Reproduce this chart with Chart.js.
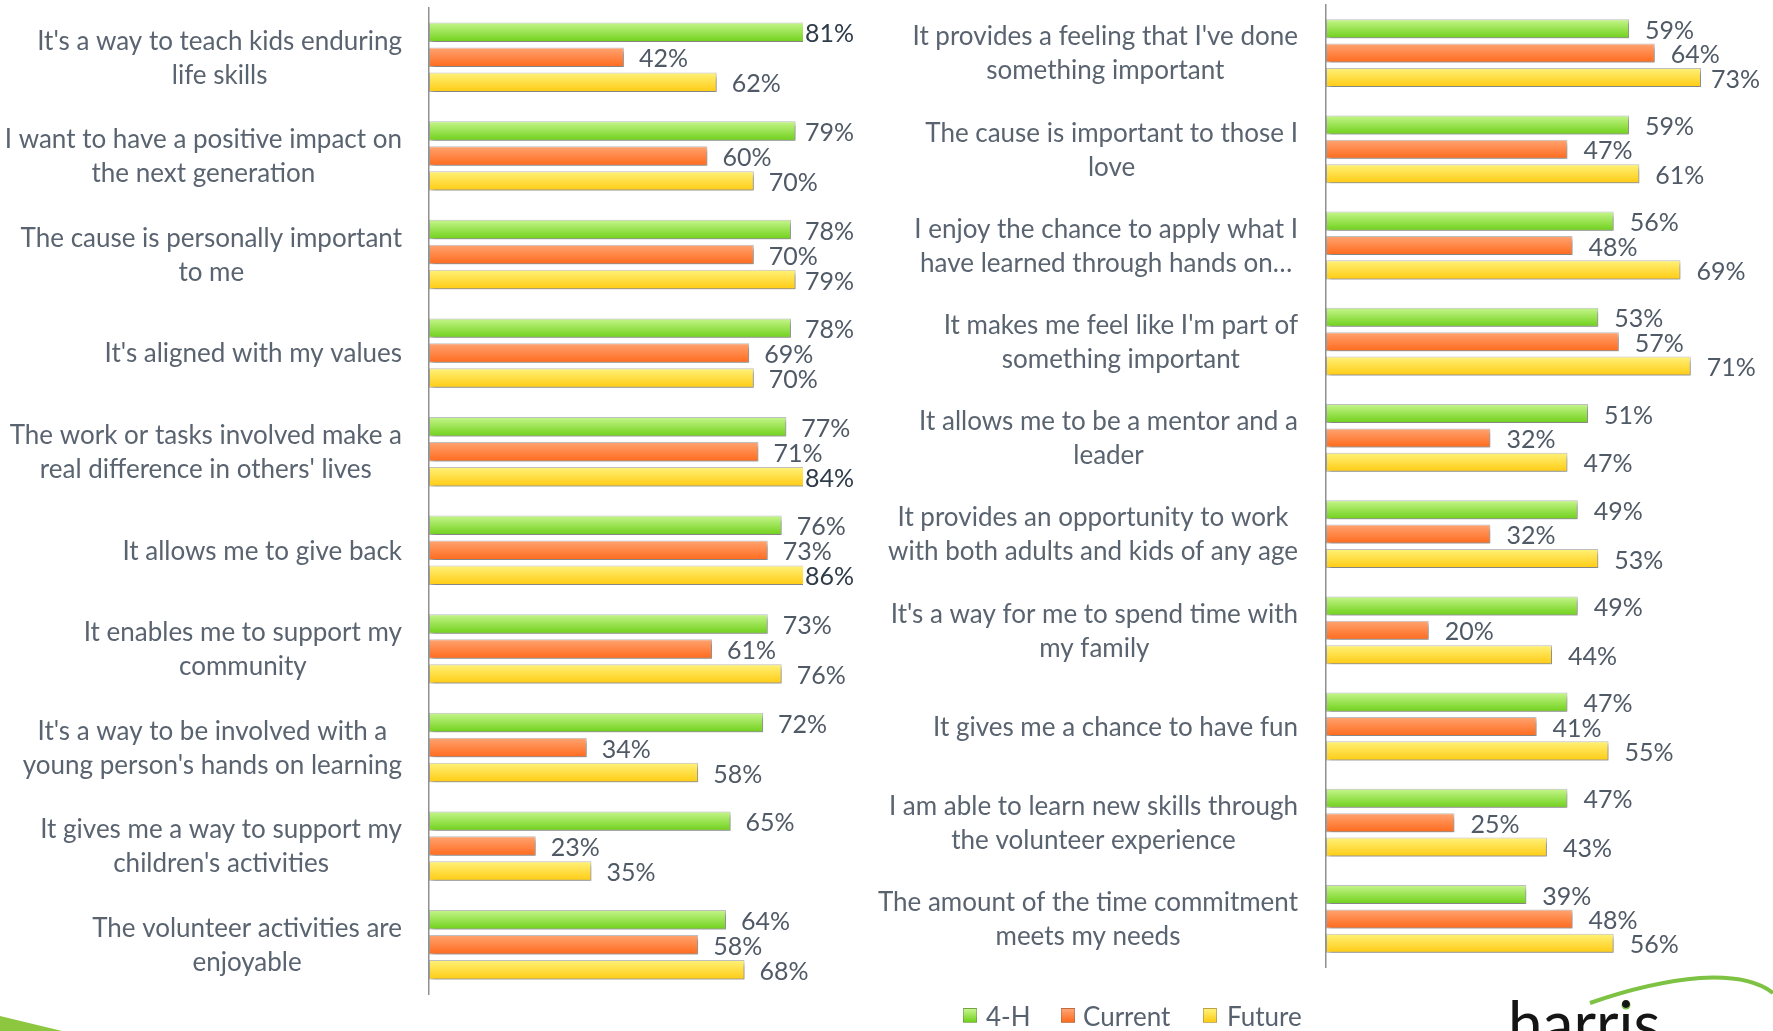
<!DOCTYPE html>
<html>
<head>
<meta charset="utf-8">
<script src="https://cdn.jsdelivr.net/npm/chart.js@4.4.1/dist/chart.umd.min.js"></script>
<style>
  html, body { margin: 0; padding: 0; background: #fff; }
  body { width: 1773px; height: 1031px; overflow: hidden; position: relative; font-family: Lato, sans-serif; }
  #leftChart { position: absolute; left: 0; top: 0; }
  #rightChart { position: absolute; left: 870px; top: 0; }
  .legend { position: absolute; top: 1002px; left: 0; font-size: 26px; color: #58626e; }
  .legend span { position: absolute; white-space: nowrap; line-height: 28px; }
  .legend i { position: absolute; top: 6px; width: 14px; height: 15px; box-sizing: border-box; border: 1px solid rgba(110,110,110,0.45); }
  #deco { position: absolute; left: 0; top: 0; }
</style>
</head>
<body>
<canvas id="leftChart" width="870" height="1031"></canvas>
<canvas id="rightChart" width="903" height="1031"></canvas>

<div class="legend">
  <i style="left:963px;background:linear-gradient(#c6f68c,#6fd01a)"></i><span style="left:986px">4-H</span>
  <i style="left:1061px;background:linear-gradient(#ffa472,#ff6a1c)"></i><span style="left:1083px">Current</span>
  <i style="left:1203px;background:linear-gradient(#fff27a,#ffcb12)"></i><span style="left:1227px">Future</span>
</div>

<svg id="deco" width="1773" height="1031">
  <polygon points="0,1016 62,1031 0,1031" fill="#8dc63f"/>
  <path d="M1590 1003 Q1650 982 1700 978 Q1750 975 1773 993" fill="none" stroke="#7dc242" stroke-width="4"/>
  <circle cx="1626" cy="1005" r="4.5" fill="#7dc242"/>
  <text x="1508" y="1046" font-family="Lato, sans-serif" font-size="62" fill="#151515">harris</text>
</svg>

<script>
const seriesNames = ["4-H", "Current", "Future"];

const leftLabels = [
  ["It's a way to teach kids enduring", "life skills"],
  ["I want to have a positive impact on", "the next generation"],
  ["The cause is personally important", "to me"],
  ["It's aligned with my values"],
  ["The work or tasks involved make a", "real difference in others' lives"],
  ["It allows me to give back"],
  ["It enables me to support my", "community"],
  ["It's a way to be involved with a", "young person's hands on learning"],
  ["It gives me a way to support my", "children's activities"],
  ["The volunteer activities are", "enjoyable"],
];
const leftFourH   = [81, 79, 78, 78, 77, 76, 73, 72, 65, 64];
const leftCurrent = [42, 60, 70, 69, 71, 73, 61, 34, 23, 58];
const leftFuture  = [62, 70, 79, 70, 84, 86, 76, 58, 35, 68];

const rightLabels = [
  ["It provides a feeling that I've done", "something important"],
  ["The cause is important to those I", "love"],
  ["I enjoy the chance to apply what I", "have learned through hands on…"],
  ["It makes me feel like I'm part of", "something important"],
  ["It allows me to be a mentor and a", "leader"],
  ["It provides an opportunity to work", "with both adults and kids of any age"],
  ["It's a way for me to spend time with", "my family"],
  ["It gives me a chance to have fun"],
  ["I am able to learn new skills through", "the volunteer experience"],
  ["The amount of the time commitment", "meets my needs"],
];
const rightFourH   = [59, 59, 56, 53, 51, 49, 49, 47, 47, 39];
const rightCurrent = [64, 47, 48, 57, 32, 32, 20, 41, 25, 48];
const rightFuture  = [73, 61, 69, 71, 47, 53, 44, 55, 43, 56];

const palette = [
  { top: "#c6f68c", bottom: "#6fd01a" },
  { top: "#ffa472", bottom: "#ff6a1c" },
  { top: "#fff27a", bottom: "#ffcb12" },
];
const CAT_PCT = 0.76;
const BAR_PCT = 0.78;

// vertical gradient per bar, placed from the category scale
function barFill(ctx) {
  const col = palette[ctx.datasetIndex];
  if (ctx.type !== "data") return col.bottom;
  const chart = ctx.chart;
  const y = chart.scales.y;
  if (!y || !isFinite(y.top)) return col.bottom;
  const pitch = (y.bottom - y.top) / chart.data.labels.length;
  const slot = pitch * CAT_PCT / 3;
  const centre = y.getPixelForValue(ctx.dataIndex) + (ctx.datasetIndex - 1) * slot;
  const half = slot * BAR_PCT / 2;
  const g = chart.ctx.createLinearGradient(0, centre - half, 0, centre + half);
  g.addColorStop(0, col.top);
  g.addColorStop(1, col.bottom);
  return g;
}

const shadowPlugin = {
  id: "barShadow",
  beforeDatasetsDraw(chart) {
    const c = chart.ctx;
    c.save();
    c.shadowColor = "rgba(0,0,0,0.35)";
    c.shadowBlur = 4;
    c.shadowOffsetX = 2;
    c.shadowOffsetY = 3;
  },
  afterDatasetsDraw(chart) {
    chart.ctx.restore();
  },
};

const textPlugin = {
  id: "texts",
  afterDraw(chart, args, opts) {
    const { ctx, chartArea } = chart;
    const y = chart.scales.y;
    const x = chart.scales.x;
    ctx.save();
    ctx.textBaseline = "middle";

    // category labels: block right-aligned, lines centred inside it
    ctx.font = "26px Lato";
    ctx.fillStyle = "#5a6470";
    ctx.textAlign = "center";
    chart.data.labels.forEach((lines, i) => {
      const cy = y.getPixelForValue(i) + 1;
      const widest = Math.max(...lines.map((l) => ctx.measureText(l).width));
      const cx = chartArea.left - opts.gap - widest / 2;
      lines.forEach((l, k) => {
        ctx.fillText(l, cx, cy + (k - (lines.length - 1) / 2) * 34);
      });
    });

    // value labels
    ctx.font = "25px Lato";
    ctx.textAlign = "left";
    chart.data.datasets.forEach((ds, d) => {
      const meta = chart.getDatasetMeta(d);
      meta.data.forEach((bar, i) => {
        const v = ds.data[i];
        const lx = Math.min(bar.x + opts.offset, chartArea.right + opts.cap);
        ctx.fillStyle = v > x.max ? "#2e3b48" : "#505a66";
        ctx.fillText(v + "%", lx, bar.y + 2);
      });
    });
    ctx.restore();
  },
};

function makeChart(id, labels, a, b, c, xMax, padding, textOpts) {
  const data = [a, b, c];
  return new Chart(document.getElementById(id), {
    type: "bar",
    data: {
      labels,
      datasets: seriesNames.map((name, i) => ({
        label: name,
        data: data[i],
        backgroundColor: barFill,
        borderColor: "rgba(120,120,120,0.45)",
        borderWidth: 1,
        borderSkipped: false,
        categoryPercentage: CAT_PCT,
        barPercentage: BAR_PCT,
        clip: 0,
      })),
    },
    options: {
      indexAxis: "y",
      responsive: false,
      animation: false,
      devicePixelRatio: 1,
      layout: { padding },
      plugins: {
        legend: { display: false },
        tooltip: { enabled: false },
        texts: textOpts,
      },
      scales: {
        x: { type: "linear", min: 0, max: xMax, display: false },
        y: {
          display: true,
          grid: { display: false, drawTicks: false },
          ticks: { display: false },
          border: { display: true, color: "#909090", width: 1.5 },
        },
      },
    },
    plugins: [shadowPlugin, textPlugin],
  });
}

makeChart("leftChart", leftLabels, leftFourH, leftCurrent, leftFuture, 80.6,
  { left: 429, right: 67, top: 8, bottom: 37 },
  { gap: 27, offset: 15, cap: 2 });

makeChart("rightChart", rightLabels, rightFourH, rightCurrent, rightFuture, 73,
  { left: 456, right: 72, top: 5, bottom: 64 },
  { gap: 28, offset: 16, cap: 10 });
</script>
</body>
</html>
